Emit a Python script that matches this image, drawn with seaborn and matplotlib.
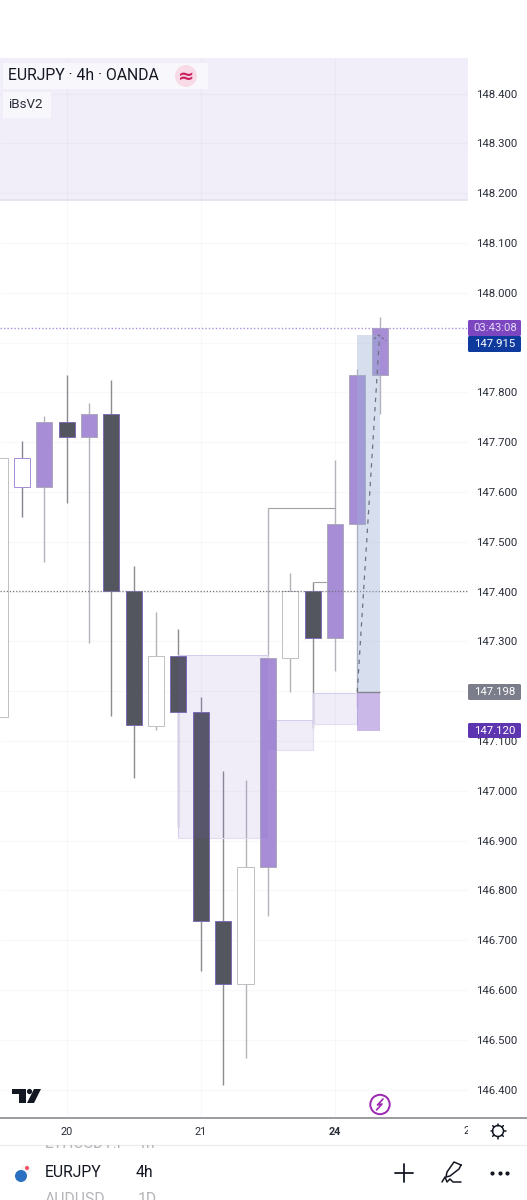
import numpy as np
import pandas as pd
import seaborn as sns
import matplotlib.pyplot as plt
from matplotlib.patches import Rectangle, Circle, Polygon, FancyBboxPatch

# ------------------ DATA ------------------
candle_idx = list(range(18))
body_top = [147.668, 147.668, 147.740, 147.740, 147.756, 147.756, 147.401, 147.270, 147.270,
            147.158, 146.738, 146.847, 147.266, 147.401, 147.401, 147.536, 147.835, 147.929]
body_bottom = [147.148, 147.610, 147.610, 147.710, 147.710, 147.401, 147.132, 147.130, 147.158,
               146.738, 146.612, 146.612, 146.847, 147.266, 147.306, 147.306, 147.536, 147.835]
wick_high = [147.668, 147.702, 147.752, 147.835, 147.778, 147.825, 147.451, 147.359, 147.325,
             147.188, 147.040, 147.021, 147.568, 147.437, 147.419, 147.665, 147.847, 147.951]
wick_low = [147.148, 147.550, 147.459, 147.578, 147.297, 147.150, 147.026, 147.122, 146.927,
            146.638, 146.409, 146.463, 146.748, 147.198, 147.126, 147.240, 147.166, 147.757]
candle_kind = ["white", "hollow", "purple", "dark", "purple", "dark", "dark", "white", "dark",
               "dark", "dark", "white", "purple", "white", "dark", "purple", "purple", "purple"]

price_ticks = [146.4, 146.5, 146.6, 146.7, 146.8, 146.9, 147.0, 147.1, 147.2, 147.3, 147.4,
               147.5, 147.6, 147.7, 147.8, 147.9, 148.0, 148.1, 148.2, 148.3, 148.4]
date_idx = [3, 9, 15]
date_labels = ["20", "21", "24"]

# zones: left idx, right idx, top price, bottom price
zone_left = [8, 12, 14]
zone_right = [12, 14, 16]
zone_top = [147.272, 147.142, 147.196]
zone_bottom = [146.905, 147.082, 147.134]

entry_price = 147.198
stop_price = 147.120
target_price = 147.915
last_price = 147.929
mid_price = 147.401
band_price = 148.186

# ------------------ STYLE ------------------
fill_map = {"white": "#ffffff", "hollow": "#ffffff", "purple": "#a68dd6", "dark": "#53565f"}
edge_map = {"white": "#c0c0c4", "hollow": "#a68dd6", "purple": "#aca8ba", "dark": "#7f6db5"}
wick_map = {"white": "#b4b4b8", "hollow": "#85848f", "purple": "#b4b2ba", "dark": "#8b8b92"}

sns.set_theme(style="white")
plt.rcParams["font.family"] = ["Roboto", "DejaVu Sans"]

fig = plt.figure(figsize=(5.27, 12), dpi=100, facecolor="white")
W, H = 527.0, 1200.0
ax = fig.add_axes([0, (H - 1118) / H, 468 / W, (1118 - 58) / H])

candles = pd.DataFrame({
    "idx": candle_idx,
    "height": np.array(body_top) - np.array(body_bottom),
    "bottom": body_bottom,
    "kind": candle_kind,
})

# ------------------ GRID AND BAND ------------------
ax.axhspan(band_price, 148.4713, color="#f1eef9", lw=0, zorder=0)
ax.axhline(band_price, color="#e3e1ec", lw=1.2, zorder=1)
ax.vlines(date_idx, 146.3428, 148.4713, color="#5a5a80", alpha=0.04, lw=0.8, zorder=1)
ax.hlines(price_ticks, 0, 21, color="#5a5a80", alpha=0.04, lw=0.8, zorder=1)

# ------------------ CANDLES ------------------
ax.vlines(candle_idx, wick_low, wick_high, color=[wick_map[k] for k in candle_kind], lw=1.0, zorder=2)
for _, row in candles.iterrows():
    sns.barplot(x=[row["idx"]], y=[row["height"]], bottom=row["bottom"], native_scale=True,
                width=0.72, errorbar=None, ax=ax, zorder=3, saturation=1,
                color=fill_map[row["kind"]], edgecolor=edge_map[row["kind"]], linewidth=0.7)

# bracket lines from the highs
ax.hlines([wick_high[12], wick_high[14]], [12, 14], [15, 15], color="#a0a0a6", lw=0.8, zorder=2)

# ------------------ ZONES AND POSITION TOOL ------------------
for l, r, t, b in zip(zone_left, zone_right, zone_top, zone_bottom):
    ax.add_patch(Rectangle((l, b), r - l, t - b, fill=False, edgecolor="#e2ddf1", lw=0.8, zorder=2.5))
    ax.add_patch(Rectangle((l, b), r - l, t - b, facecolor="#7a5cc8", edgecolor="none", alpha=0.11, zorder=4))
ax.add_patch(Rectangle((16, entry_price), 1, target_price - entry_price, facecolor="#9cb0d6", alpha=0.4, lw=0, zorder=4))
ax.add_patch(Rectangle((16, stop_price), 1, entry_price - stop_price, facecolor="#8f6cd0", alpha=0.47, lw=0, zorder=4))
ax.hlines(entry_price, 16, 17, color="#85858f", lw=1.0, zorder=5)
ax.plot([16, 17], [entry_price, target_price], color="#6f7180", lw=0.9, ls=(0, (3.5, 4)), zorder=6)
ax.plot([16.75, 16.95, 17.3], [target_price - 0.008, target_price, target_price - 0.012],
        color="#6f7180", lw=0.9, ls=(0, (2, 2)), zorder=6)

# last and middle price lines
ax.axhline(last_price, color="#a98fe0", lw=1.0, ls=(0, (1, 1.5)), zorder=3)
ax.axhline(mid_price, color="#71727c", lw=0.9, ls=(0, (1, 1.5)), zorder=3)

# ------------------ AXES ------------------
ax.set_xlim(0.0157, 20.955)
ax.set_ylim(146.3428, 148.4713)
ax.yaxis.tick_right()
ax.set_yticks(price_ticks)
ax.set_yticklabels([f"{p:.3f}" for p in price_ticks], fontsize=8.2, color="#2a2e39", ha="left")
ax.tick_params(axis="y", length=0, pad=5.8)
ax.set_xticks(date_idx)
ax.set_xticklabels(date_labels, fontsize=7.8, color="#2a2e39")
ax.get_xticklabels()[2].set_fontweight("bold")
ax.tick_params(axis="x", length=0, pad=6.5)
ax.set_xlabel("")
ax.set_ylabel("")
for s in ax.spines.values():
    s.set_visible(False)
ax.patch.set_alpha(0)

# ------------------ SCREEN FURNITURE (pixel coordinates) ------------------
ov = fig.add_axes([0, 0, 1, 1], facecolor="none")
ov.set_xlim(0, W)
ov.set_ylim(H, 0)
ov.axis("off")

# legend boxes
ov.add_patch(Rectangle((3, 63), 205, 26, facecolor="#f8f7fc", lw=0))
ov.add_patch(Rectangle((3, 92), 48, 26, facecolor="#f8f7fc", lw=0))
ov.text(8, 75.5, "EURJPY · 4h · OANDA", fontsize=11.3, color="#131722", va="center", ha="left")
ov.text(8, 104, "iBsV2", fontsize=9.6, color="#2a2e39", va="center", ha="left")
ov.add_patch(Circle((186, 76), 11, facecolor="#f8dbe6", lw=0))
ov.text(186, 76, "≈", fontsize=14, color="#c9215f", va="center", ha="center",
        family="DejaVu Sans", fontweight="bold")

# price labels
labels = [
    (320, 16, "#7b46c0", "03:43:08", "#e4d9f5"),
    (336, 16, "#0d3a9c", "147.915", "#ffffff"),
    (684, 16, "#7b7d8a", "147.198", "#ffffff"),
    (723, 15, "#5e35b1", "147.120", "#ffffff"),
]
for y0, h, bg, txt, fg in labels:
    ov.add_patch(FancyBboxPatch((469, y0 + 1), 51, h - 2, boxstyle="round,pad=1,rounding_size=1.5",
                                facecolor=bg, lw=0))
    ov.text(495, y0 + h / 2, txt, fontsize=8.2, color=fg, va="center", ha="center")

# time axis strip
ov.plot([0, 527], [1118, 1118], color="#8a8a90", lw=1.2)
ov.plot([0, 527], [1144.5, 1144.5], color="#eeeef1", lw=1)
t2 = ov.text(464, 1131, "2", fontsize=7.8, color="#2a2e39", va="center", ha="left", clip_on=True)
t2.set_clip_path(Rectangle((0, 1120), 468, 24, transform=ov.transData))

# TradingView logo
ov.add_patch(Polygon([(12, 1089), (26, 1089), (26, 1103), (19, 1103), (19, 1094), (12, 1094)], facecolor="#131722", lw=0))
ov.add_patch(Circle((29.5, 1091.5), 2.6, facecolor="#131722", lw=0))
ov.add_patch(Polygon([(34, 1089), (41, 1089), (34, 1103), (27, 1103)], facecolor="#131722", lw=0))

# bolt icon
ov.add_patch(Circle((380, 1104.5), 9.7, facecolor="white", edgecolor="#9c27b0", lw=1.4))
ov.plot([383, 377.5, 382, 376.5], [1099, 1105, 1104, 1110], color="#9c27b0", lw=1.2)

# sun/gear icon
ov.add_patch(Circle((498, 1131), 5.5, facecolor="white", edgecolor="#131722", lw=1.1))
for a in np.deg2rad(np.arange(0, 360, 45)):
    ov.plot([498 + 5.5 * np.cos(a), 498 + 7.5 * np.cos(a)], [1131 + 5.5 * np.sin(a), 1131 + 7.5 * np.sin(a)],
            color="#131722", lw=1.1)

# watchlist rows, the neighbours are cut by the toolbar
row_clip = Rectangle((0, 1145), W, 55, transform=ov.transData)
for x, y, txt in [(45, 1144, "ETHUSDT.P"), (138, 1144, "1h"), (45, 1200, "AUDUSD"), (138, 1200, "1D")]:
    t = ov.text(x, y, txt, fontsize=11.3, color="#b5b5ba", va="center", clip_on=True)
    t.set_clip_path(row_clip)
ov.text(45, 1172.5, "EURJPY", fontsize=11.3, color="#131722", va="center")
ov.text(136, 1172.5, "4h", fontsize=11.3, color="#131722", va="center")

# flag
ov.add_patch(Circle((26, 1170), 5, facecolor="#f4f4f6", lw=0))
ov.add_patch(Circle((27, 1168), 2, facecolor="#f04d5e", lw=0))
ov.add_patch(Circle((21, 1176), 6, facecolor="#2a6fc0", lw=0))

# toolbar icons
ov.plot([395, 413], [1172.5, 1172.5], color="#131722", lw=1.3)
ov.plot([404, 404], [1164, 1182], color="#131722", lw=1.3)
ov.plot([461, 454, 447, 446, 450, 459, 461], [1165, 1162, 1172, 1177, 1176, 1169, 1165], color="#131722", lw=1.1)
ov.plot([442, 445, 447, 450, 453, 461], [1182, 1177, 1182, 1179, 1182, 1182], color="#131722", lw=1.1)
ov.scatter([492, 499.5, 507], [1172.5] * 3, s=9, color="#131722", lw=0)

fig.savefig("out.png", dpi=100)
